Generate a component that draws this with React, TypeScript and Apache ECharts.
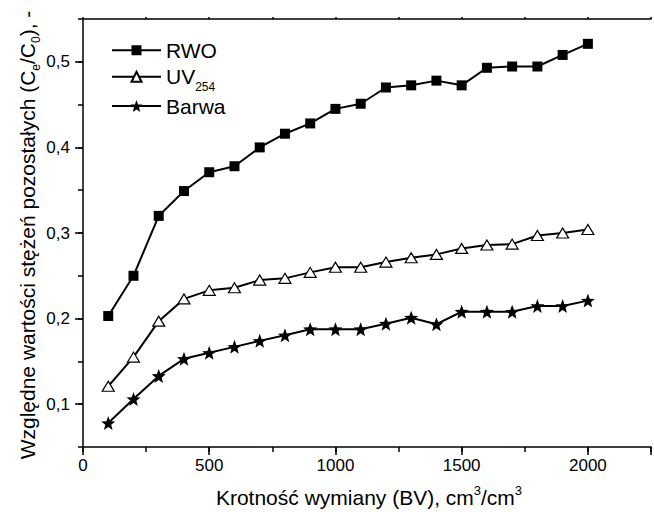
import React, { useEffect, useRef } from "react";
import * as echarts from "echarts";

const bv = [100, 200, 300, 400, 500, 600, 700, 800, 900, 1000, 1100, 1200, 1300, 1400, 1500, 1600, 1700, 1800, 1900, 2000];
const rwo = [0.203, 0.25, 0.32, 0.349, 0.371, 0.378, 0.4, 0.416, 0.428, 0.445, 0.451, 0.47, 0.4725, 0.478, 0.4725, 0.493, 0.4945, 0.4945, 0.508, 0.521];
const uv254 = [0.121, 0.155, 0.197, 0.223, 0.233, 0.236, 0.245, 0.247, 0.254, 0.26, 0.26, 0.266, 0.271, 0.275, 0.282, 0.286, 0.287, 0.297, 0.3, 0.304];
const barwa = [0.078, 0.106, 0.133, 0.153, 0.16, 0.167, 0.174, 0.1805, 0.1876, 0.1876, 0.1876, 0.194, 0.201, 0.1935, 0.208, 0.208, 0.208, 0.2147, 0.2147, 0.221];
const seriesNames = ["RWO", "UV254", "Barwa"];
const yTickValues = [0.1, 0.2, 0.3, 0.4, 0.5];
const xTitle = "{n|Krotność wymiany (BV), cm}{p|3}{n|/cm}{p|3}";
const yTitle = "{n|Względne wartości stężeń pozostałych (C}{s|e}{n|/C}{s|0}{n|), -}";

const FONT = '"Liberation Sans", Arial, Helvetica, sans-serif';

function starPath(): string {
  const pts: string[] = [];
  for (let i = 0; i < 10; i++) {
    const r = i % 2 === 0 ? 1 : 0.42;
    const a = -Math.PI / 2 + (i * Math.PI) / 5;
    pts.push(`${(r * Math.cos(a)).toFixed(4)} ${(r * Math.sin(a)).toFixed(4)}`);
  }
  return "path://M" + pts.join(" L") + " Z";
}

export default function App() {
  const ref = useRef<HTMLDivElement>(null);
  useEffect(() => {
    if (!ref.current) return;
    const chart = echarts.init(ref.current, null, { renderer: "svg" });
    const axisLine = { show: true, onZero: false, lineStyle: { color: "#000", width: 1.5 } };
    const tickStyle = { color: "#000", width: 1.5 };
    const legendBase = {
      left: 111,
      itemWidth: 49,
      itemHeight: 12.5,
      padding: 0,
      selectedMode: false,
      textStyle: { fontSize: 21, color: "#000", fontFamily: FONT },
    };
    const lineStyle = { color: "#000", width: 2 };
    chart.setOption({
      animation: false,
      backgroundColor: "#fff",
      grid: { left: 83, top: 19, width: 572, height: 428, containLabel: false },
      xAxis: [
        {
          type: "value",
          min: 0,
          max: 2250,
          interval: 500,
          position: "bottom",
          axisLine,
          axisTick: { show: true, length: 8, lineStyle: tickStyle },
          axisLabel: {
            formatter: (v: number) => (v % 500 === 0 && v <= 2000 ? String(v) : ""),
            fontSize: 17,
            color: "#000",
            fontFamily: FONT,
            margin: 10,
          },
          splitLine: { show: false },
        },
        {
          type: "value",
          min: 0,
          max: 2250,
          interval: 250,
          position: "bottom",
          axisLine: { show: false },
          axisTick: { show: true, length: 5, lineStyle: tickStyle },
          axisLabel: { show: false },
          splitLine: { show: false },
        },
        {
          type: "value",
          min: 0,
          max: 2250,
          interval: 250,
          position: "top",
          axisLine,
          axisTick: { show: true, length: 2, lineStyle: tickStyle },
          axisLabel: { show: false },
          splitLine: { show: false },
        },
      ],
      yAxis: [
        {
          type: "value",
          min: 0.05,
          max: 0.55,
          position: "left",
          axisLine,
          axisTick: { show: true, length: 8, lineStyle: tickStyle, customValues: yTickValues },
          axisLabel: {
            customValues: yTickValues,
            formatter: (v: number) =>
              Math.abs(v * 10 - Math.round(v * 10)) < 1e-6 ? v.toFixed(1).replace(".", ",") : "",
            fontSize: 17,
            color: "#000",
            fontFamily: FONT,
            margin: 13,
          },
          splitLine: { show: false },
        },
        {
          type: "value",
          min: 0.05,
          max: 0.55,
          interval: 0.05,
          position: "left",
          axisLine: { show: false },
          axisTick: { show: true, length: 5, lineStyle: tickStyle },
          axisLabel: { show: false },
          splitLine: { show: false },
        },
      ],
      legend: [
        { ...legendBase, data: [seriesNames[0]], top: 46 - 6.25 },
        {
          ...legendBase,
          data: [seriesNames[1]],
          top: 72.5 - 6.25,
          formatter: "{a|UV}{b|254}",
          textStyle: {
            fontSize: 21,
            color: "#000",
            fontFamily: FONT,
            rich: {
              a: { fontSize: 21, color: "#000", fontFamily: FONT },
              b: { fontSize: 12, color: "#000", fontFamily: FONT, padding: [20, 0, 0, 0] },
            },
          },
        },
        { ...legendBase, data: [seriesNames[2]], itemHeight: 15, top: 103 - 7.5 },
      ],
      series: [
        {
          name: seriesNames[0],
          type: "line",
          data: bv.map((x, i) => [x, rwo[i]]),
          symbol: "rect",
          symbolSize: 10,
          showAllSymbol: true,
          lineStyle,
          itemStyle: { color: "#000" },
          silent: true,
          z: 3,
        },
        {
          name: seriesNames[1],
          type: "line",
          data: bv.map((x, i) => [x, uv254[i]]),
          symbol: "triangle",
          symbolSize: [12, 10],
          showAllSymbol: true,
          lineStyle,
          itemStyle: { color: "#fff", borderColor: "#000", borderWidth: 1.2 },
          silent: true,
          z: 3,
        },
        {
          name: seriesNames[2],
          type: "line",
          data: bv.map((x, i) => [x, barwa[i]]),
          symbol: starPath(),
          symbolSize: 14,
          showAllSymbol: true,
          lineStyle,
          itemStyle: { color: "#000" },
          silent: true,
          z: 3,
        },
      ],
      graphic: [
        {
          type: "text",
          x: 369,
          y: 497,
          silent: true,
          style: {
            text: xTitle,
            align: "center",
            verticalAlign: "middle",
            fill: "#000",
            font: `21px ${FONT}`,
            rich: {
              n: { fontSize: 21, fontFamily: FONT, fill: "#000" },
              p: { fontSize: 13, fontFamily: FONT, fill: "#000", padding: [0, 0, 14, 0] },
            },
          },
        },
        {
          type: "text",
          x: 27,
          y: 235,
          rotation: Math.PI / 2,
          silent: true,
          style: {
            text: yTitle,
            align: "center",
            verticalAlign: "middle",
            fill: "#000",
            font: `21px ${FONT}`,
            rich: {
              n: { fontSize: 21, fontFamily: FONT, fill: "#000" },
              s: { fontSize: 12, fontFamily: FONT, fill: "#000", padding: [18, 0, 0, 0] },
            },
          },
        },
      ],
    });
    return () => chart.dispose();
  }, []);
  return (
    <div
      ref={ref}
      style={{ position: "absolute", left: 0, top: 0, width: 654, height: 517, background: "#fff" }}
    />
  );
}
